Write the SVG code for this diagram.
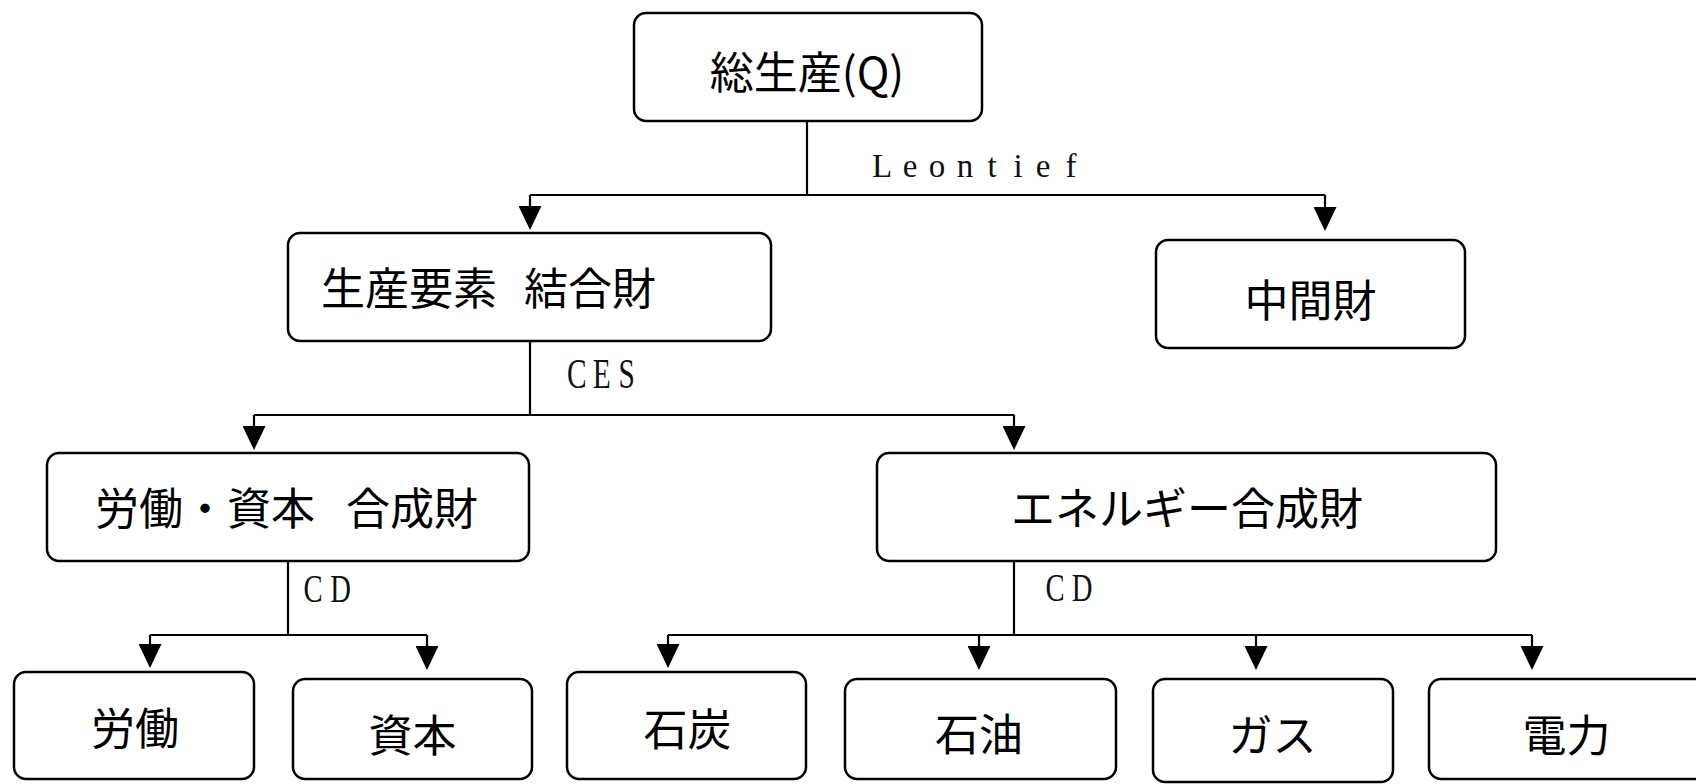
<svg xmlns="http://www.w3.org/2000/svg" width="1696" height="784" viewBox="0 0 1696 784">
<defs>
<style>
.box{fill:#fff;stroke:#000;stroke-width:2.5}
.cjk{font-family:"Noto Sans CJK JP","Noto Sans CJK SC",sans-serif;font-size:44px;fill:#000}
.mid{text-anchor:middle}
.lat{font-family:"Liberation Serif",serif;fill:#111;text-anchor:middle}
.con{fill:none;stroke:#000;stroke-width:2.2}
.arr{fill:none;stroke:#000;stroke-width:2.2;marker-end:url(#ah)}
</style>
<marker id="ah" markerUnits="userSpaceOnUse" markerWidth="24" markerHeight="23" viewBox="0 0 24 23" refX="18" refY="11.5" orient="auto">
<path d="M0,0 L24,11.5 L0,23 Z" fill="#000"/>
</marker>
</defs>
<rect width="1696" height="784" fill="#fff"/>
<g id="connectors">
<path class="con" d="M807,122 V195 M530,195 H1325"/>
<path class="arr" d="M530,195 V224"/>
<path class="arr" d="M1325,195 V225"/>
<path class="con" d="M530,342 V415 M254,415 H1014"/>
<path class="arr" d="M254,415 V444"/>
<path class="arr" d="M1014,415 V444"/>
<path class="con" d="M288,562 V635 M150,635 H427"/>
<path class="arr" d="M150,635 V662"/>
<path class="arr" d="M427,635 V664"/>
<path class="con" d="M1014,562 V635 M668,635 H1532"/>
<path class="arr" d="M668,635 V662"/>
<path class="arr" d="M979,635 V664"/>
<path class="arr" d="M1256,635 V664"/>
<path class="arr" d="M1532,635 V664"/>
<text class="lat" font-size="33" x="882 910 937 965 992 1018 1043 1071" y="177">Leontief</text>
<g transform="translate(576.7,388) scale(0.7,1)"><text class="lat" font-size="42" x="0 35.7 71.4" y="0">CES</text></g>
<g transform="translate(313,602) scale(0.7,1)"><text class="lat" font-size="41" x="0 39.5" y="0">CD</text></g>
<g transform="translate(1055,601) scale(0.7,1)"><text class="lat" font-size="41" x="0 38.6" y="0">CD</text></g>
</g>
<g id="n-total">
<rect class="box" x="634" y="13" width="348" height="108" rx="12"/>
<text class="cjk mid" x="807" y="89" font-size="46">総生産(Q)</text>
</g>
<g id="n-factor">
<rect class="box" x="288" y="233" width="483" height="108" rx="12"/>
<text class="cjk" x="321" y="305">生産要素 <tspan x="524">結合財</tspan></text>
</g>
<g id="n-intermediate">
<rect class="box" x="1156" y="240" width="309" height="108" rx="12"/>
<text class="cjk mid" x="1310.5" y="317">中間財</text>
</g>
<g id="n-labcap">
<rect class="box" x="47" y="453" width="482" height="108" rx="12"/>
<text class="cjk" x="95" y="525">労働・資本 <tspan x="346">合成財</tspan></text>
</g>
<g id="n-energy">
<rect class="box" x="877" y="453" width="619" height="108" rx="12"/>
<text class="cjk mid" x="1187" y="525">エネルギー合成財</text>
</g>
<g id="n-labor">
<rect class="box" x="14" y="672" width="240" height="107" rx="12"/>
<text class="cjk mid" x="135" y="745">労働</text>
</g>
<g id="n-capital">
<rect class="box" x="293" y="679" width="239" height="100" rx="12"/>
<text class="cjk mid" x="412.5" y="752">資本</text>
</g>
<g id="n-coal">
<rect class="box" x="567" y="672" width="239" height="107" rx="12"/>
<text class="cjk mid" x="687.5" y="745.5">石炭</text>
</g>
<g id="n-oil">
<rect class="box" x="845" y="679" width="271" height="100" rx="12"/>
<text class="cjk mid" x="979" y="750.5">石油</text>
</g>
<g id="n-gas">
<rect class="box" x="1153" y="679" width="240" height="103" rx="12"/>
<text class="cjk mid" x="1272.5" y="751.5">ガス</text>
</g>
<g id="n-power">
<rect class="box" x="1429" y="679" width="290" height="100" rx="12"/>
<text class="cjk mid" x="1566.5" y="751.5">電力</text>
</g>
</svg>
